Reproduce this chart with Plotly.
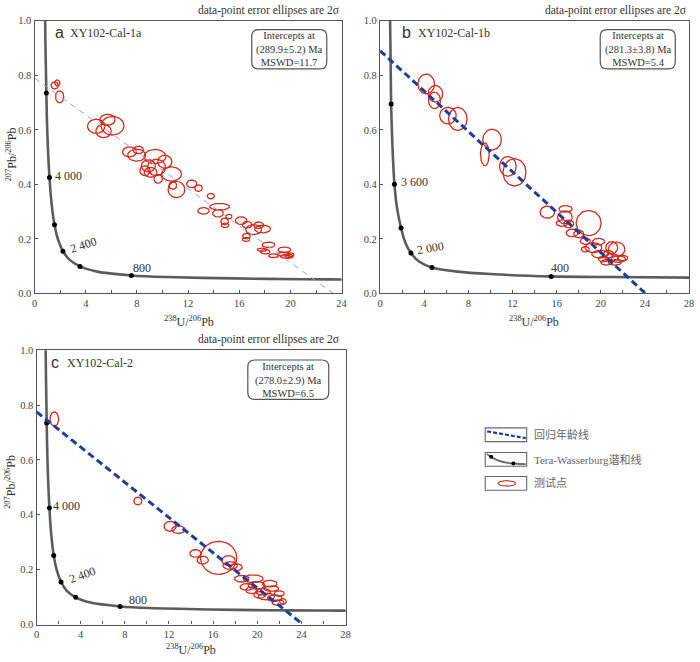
import numpy as np
import plotly.graph_objects as go

W, H = 700, 662

# ---- data ----
# panel a : XY102-Cal-1a
a_x = [1.57, 1.78, 1.96, 4.82, 5.39, 6.09, 5.70, 7.42, 8.11, 7.98, 9.41, 10.18, 8.89, 9.53, 8.63,
       9.07, 9.66, 10.70, 10.81, 11.09, 12.28, 12.82, 13.78, 13.21, 14.47, 14.34, 14.86, 14.89, 15.19,
       16.15, 16.62, 16.56, 16.54, 17.13, 17.52, 17.82, 18.29, 17.78, 18.03, 18.68, 19.53, 19.45,
       19.92, 19.6, 20.0]
a_y = [0.763, 0.772, 0.721, 0.613, 0.595, 0.615, 0.637, 0.519, 0.526, 0.507, 0.502, 0.483, 0.468,
       0.462, 0.450, 0.444, 0.420, 0.438, 0.396, 0.381, 0.402, 0.386, 0.357, 0.303, 0.318, 0.294,
       0.264, 0.250, 0.282, 0.267, 0.252, 0.210, 0.198, 0.234, 0.250, 0.236, 0.178, 0.160, 0.153,
       0.138, 0.160, 0.144, 0.136, 0.136, 0.142]
a_sx = [0.28, 0.2, 0.32, 0.68, 0.6, 0.9, 0.6, 0.55, 0.4, 0.7, 0.85, 0.55, 0.55, 0.7, 0.4, 0.5, 0.33,
        0.78, 0.3, 0.65, 0.4, 0.3, 0.28, 0.45, 0.78, 0.42, 0.3, 0.3, 0.25, 0.45, 0.38, 0.3, 0.3, 0.62,
        0.38, 0.62, 0.5, 0.38, 0.38, 0.38, 0.5, 0.5, 0.3, 0.38, 0.28]
a_sy = [0.013, 0.011, 0.022, 0.026, 0.024, 0.034, 0.02, 0.018, 0.014, 0.022, 0.026, 0.024, 0.022,
        0.03, 0.018, 0.018, 0.016, 0.026, 0.014, 0.03, 0.014, 0.012, 0.01, 0.012, 0.012, 0.014, 0.012,
        0.008, 0.008, 0.014, 0.012, 0.01, 0.007, 0.018, 0.012, 0.014, 0.01, 0.006, 0.008, 0.007, 0.01,
        0.007, 0.007, 0.007, 0.007]

# panel b : XY102-Cal-1b
b_x = [4.18, 5.01, 4.93, 6.15, 7.04, 10.15, 9.49, 11.58, 12.18, 15.16, 16.8, 16.75, 16.5, 17.1, 18.9,
       17.4, 18.0, 18.6, 19.8, 19.34, 18.6, 19.94, 20.99, 21.43, 20.7, 20.24, 20.99, 21.6, 22.0,
       21.28, 20.54]
b_y = [0.768, 0.732, 0.708, 0.652, 0.640, 0.564, 0.510, 0.466, 0.444, 0.298, 0.310, 0.279, 0.258,
       0.255, 0.258, 0.222, 0.218, 0.192, 0.190, 0.168, 0.162, 0.144, 0.168, 0.162, 0.144, 0.126,
       0.132, 0.126, 0.130, 0.114, 0.114]
b_sx = [0.75, 0.66, 0.54, 0.75, 0.84, 0.84, 0.39, 0.75, 1.04, 0.66, 0.6, 0.66, 0.54, 0.45, 1.13,
        0.54, 0.45, 0.45, 0.54, 0.75, 0.36, 0.75, 0.54, 0.75, 0.45, 0.45, 0.6, 0.66, 0.45, 0.6, 0.54]
b_sy = [0.036, 0.03, 0.03, 0.03, 0.042, 0.038, 0.042, 0.036, 0.05, 0.022, 0.012, 0.024, 0.012,
        0.014, 0.046, 0.014, 0.014, 0.012, 0.012, 0.018, 0.01, 0.014, 0.022, 0.026, 0.014, 0.01,
        0.014, 0.012, 0.01, 0.01, 0.01]

# panel c : XY102-Cal-2
c_x = [1.61, 9.18, 12.1, 12.85, 14.4, 15.06, 16.5, 17.4, 17.55, 18.1, 18.6, 19.64, 19.93, 21.13,
       19.04, 19.49, 20.53, 20.83, 21.58, 22.0, 22.33, 21.88, 20.23, 21.28]
c_y = [0.749, 0.450, 0.358, 0.346, 0.259, 0.235, 0.243, 0.233, 0.215, 0.209, 0.167, 0.167, 0.143,
       0.149, 0.137, 0.125, 0.119, 0.102, 0.096, 0.113, 0.084, 0.080, 0.108, 0.131]
c_sx = [0.39, 0.36, 0.54, 0.6, 0.51, 0.51, 1.64, 0.6, 0.66, 0.54, 0.66, 0.9, 0.75, 0.66, 0.6, 0.54,
        0.66, 0.75, 0.66, 0.45, 0.3, 0.54, 0.54, 0.66]
c_sy = [0.026, 0.014, 0.018, 0.014, 0.014, 0.014, 0.06, 0.018, 0.014, 0.012, 0.012, 0.014, 0.014,
        0.012, 0.012, 0.012, 0.012, 0.012, 0.012, 0.01, 0.01, 0.01, 0.012, 0.01]

# regression lines (y-intercept -> x-intercept)
a_line_x, a_line_y = [0, 23.35], [0.79, 0]
b_line_x, b_line_y = [0, 24.05], [0.89, 0]
c_line_x, c_line_y = [0, 24.15], [0.775, 0]

# concordia curves
conc_x = [0.82, 0.85, 0.875, 0.92, 0.99, 1.163, 1.337, 1.556, 1.838, 2.217, 2.749, 3.55, 4.89,
          7.57, 10.25, 15.62, 20.99, 25.29, 28.5]
conc_y = [1.02, 0.91, 0.846, 0.735, 0.597, 0.425, 0.326, 0.252, 0.197, 0.155, 0.123, 0.099, 0.080,
          0.066, 0.060, 0.055, 0.052, 0.051, 0.0505]
conc_b_x = [0.90, 0.93, 0.97, 1.0, 1.1, 1.3, 1.55, 1.9, 2.3, 2.8, 3.5, 4.7, 7.0, 10.0, 15.5, 21.0, 28.5]
conc_b_y = [1.02, 0.93, 0.80, 0.695, 0.56, 0.40, 0.31, 0.24, 0.185, 0.148, 0.118, 0.095, 0.080,
            0.071, 0.0625, 0.060, 0.058]

# age marks on the concordia (every 800 Ma)
dot_x = [7.57, 3.55, 2.217, 1.556, 1.163, 0.92]
dot_y = [0.066, 0.099, 0.155, 0.252, 0.425, 0.735]
dot_b_x = [15.5, 4.7, 2.8, 1.9, 1.3, 1.0]
dot_b_y = [0.0625, 0.095, 0.148, 0.24, 0.40, 0.695]

age_labels_a = ["4 000", "2 400", "800"]
age_labels_b = ["3 600", "2 000", "400"]
age_labels_c = ["4 000", "2 400", "800"]

intercepts = ["(289.9±5.2) Ma", "(281.3±3.8) Ma", "(278.0±2.9) Ma"]
mswd = ["11.7", "5.4", "6.5"]
samples = ["XY102-Cal-1a", "XY102-Cal-1b", "XY102-Cal-2"]
legend_labels = ["回归年龄线", "Tera-Wasserburg谐和线", "测试点"]

RED = "#d3291c"
SERIF = "Liberation Serif"


def px(x, y):
    return x / W, 1 - y / H


def ellipses(cx, cy, sx, sy):
    t = np.linspace(0, 2 * np.pi, 48)
    xs, ys = [], []
    for x0, y0, rx, ry in zip(cx, cy, sx, sy):
        xs += list(x0 + rx * np.cos(t)) + [None]
        ys += list(y0 + ry * np.sin(t)) + [None]
    return xs, ys


def rrect(x0, y0, x1, y1, r=7):
    p = lambda x, y: "%.5f,%.5f" % px(x, y)
    return ("M" + p(x0 + r, y0) + " L" + p(x1 - r, y0) + " Q" + p(x1, y0) + " " + p(x1, y0 + r) +
            " L" + p(x1, y1 - r) + " Q" + p(x1, y1) + " " + p(x1 - r, y1) +
            " L" + p(x0 + r, y1) + " Q" + p(x0, y1) + " " + p(x0, y1 - r) +
            " L" + p(x0, y0 + r) + " Q" + p(x0, y0) + " " + p(x0 + r, y0) + " Z")


fig = go.Figure()

panels = [
    dict(ax="", cx=a_x, cy=a_y, sx=a_sx, sy=a_sy, lx=a_line_x, ly=a_line_y, lc="#8ea6dd", lw=1,
         dash="6px,5px", kx=conc_x, ky=conc_y, dx=dot_x, dy=dot_y),
    dict(ax="2", cx=b_x, cy=b_y, sx=b_sx, sy=b_sy, lx=b_line_x, ly=b_line_y, lc="#1c3f9e", lw=3,
         dash="7px,4px", kx=conc_b_x, ky=conc_b_y, dx=dot_b_x, dy=dot_b_y),
    dict(ax="3", cx=c_x, cy=c_y, sx=c_sx, sy=c_sy, lx=c_line_x, ly=c_line_y, lc="#1c3f9e", lw=3,
         dash="7px,4px", kx=conc_x, ky=conc_y, dx=dot_x, dy=dot_y),
]

for p in panels:
    xa, ya = "x" + p["ax"], "y" + p["ax"]
    fig.add_trace(go.Scatter(x=p["kx"], y=p["ky"], mode="lines", xaxis=xa, yaxis=ya,
                             line=dict(color="#5c5c5c", width=2.6, shape="spline", smoothing=0.8),
                             hoverinfo="skip"))
    fig.add_trace(go.Scatter(x=p["dx"], y=p["dy"], mode="markers", xaxis=xa, yaxis=ya,
                             marker=dict(color="black", size=5), hoverinfo="skip"))
    ex, ey = ellipses(p["cx"], p["cy"], p["sx"], p["sy"])
    fig.add_trace(go.Scatter(x=ex, y=ey, mode="lines", xaxis=xa, yaxis=ya,
                             line=dict(color=RED, width=1.3), hoverinfo="skip"))
    fig.add_trace(go.Scatter(x=p["lx"], y=p["ly"], mode="lines", xaxis=xa, yaxis=ya,
                             line=dict(color=p["lc"], width=p["lw"], dash=p["dash"]),
                             hoverinfo="skip"))

# legend samples (drawn on an invisible pixel-scaled axis)
fig.add_trace(go.Scatter(x=[490.5, 529.5], y=[433.5, 440.5], mode="lines", xaxis="x4", yaxis="y4",
                         line=dict(color="#1c3f9e", width=2.2, dash="4px,2px"), hoverinfo="skip"))
fig.add_trace(go.Scatter(x=[490, 495, 502, 510, 520, 529.5], y=[456.5, 460, 463.3, 465.4, 466.5, 467],
                         mode="lines", xaxis="x4", yaxis="y4",
                         line=dict(color="#6a6a6a", width=1.8, shape="spline"), hoverinfo="skip"))
fig.add_trace(go.Scatter(x=[494.5, 517], y=[459.5, 466.2], mode="markers", xaxis="x4", yaxis="y4",
                         marker=dict(color="black", size=4), hoverinfo="skip"))
t = np.linspace(0, 2 * np.pi, 40)
fig.add_trace(go.Scatter(x=510.5 + 9 * np.cos(t), y=486.5 + 2.8 * np.sin(t), mode="lines",
                         xaxis="x4", yaxis="y4", line=dict(color=RED, width=1.1), hoverinfo="skip"))

shapes, annos = [], []
for y0, y1 in [(430, 444), (455, 469), (479.5, 493.5)]:
    shapes.append(dict(type="rect", xref="x4", yref="y4", x0=488.5, x1=530.5, y0=y0, y1=y1,
                       line=dict(color="#666", width=1.1)))
for lab, yy in zip(legend_labels, [437, 462, 486.5]):
    annos.append(dict(text=lab, xref="x4", yref="y4", x=536, y=yy, xanchor="left", yanchor="middle",
                      showarrow=False, font=dict(family=SERIF + ", Noto Sans CJK SC", size=11,
                                                 color="#666")))

# per-panel decorations (pixel geometry)
frames = [
    dict(box=(252, 25, 328, 65), letter=(57, 28), name=(66, 28), note=(343, 6), xt=(188, 322),
         yt=(9, 152)),
    dict(box=(605, 25, 681, 65), letter=(409, 28), name=(418, 28), note=(695, 6), xt=(538, 322),
         yt=None),
    dict(box=(248, 361, 330, 401), letter=(53, 364), name=(63, 364), note=(343, 340),
         xt=(190, 655), yt=(8, 485)),
]
for i, f in enumerate(frames):
    x0, y0, x1, y1 = f["box"]
    shapes.append(dict(type="path", xref="paper", yref="paper", path=rrect(x0, y0, x1, y1),
                       line=dict(color="#555", width=1.2)))
    bx, by = px((x0 + x1) / 2, (y0 + y1) / 2)
    annos.append(dict(text="Intercepts at<br>" + intercepts[i] + "<br>MSWD=" + mswd[i],
                      xref="paper", yref="paper", x=bx, y=by, xanchor="center", yanchor="middle",
                      showarrow=False, align="center",
                      font=dict(family=SERIF, size=10.5, color="#333")))
    lx, ly = px(*f["letter"])
    annos.append(dict(text="abc"[i], xref="paper", yref="paper", x=lx, y=ly, xanchor="center",
                      yanchor="middle", showarrow=False,
                      font=dict(family="Liberation Sans", size=16, color="#333")))
    nx, ny = px(*f["name"])
    annos.append(dict(text=samples[i], xref="paper", yref="paper", x=nx, y=ny, xanchor="left",
                      yanchor="middle", showarrow=False, font=dict(family=SERIF, size=12,
                                                                   color="#333")))
    tx, ty = px(*f["note"])
    annos.append(dict(text="data-point error ellipses are 2σ", xref="paper", yref="paper", x=tx,
                      y=ty, xanchor="right", yanchor="middle", showarrow=False,
                      font=dict(family=SERIF, size=11.5, color="#333")))
    ux, uy = px(*f["xt"])
    annos.append(dict(text="<sup>238</sup>U/<sup>206</sup>Pb", xref="paper", yref="paper", x=ux,
                      y=uy, xanchor="center", yanchor="middle", showarrow=False,
                      font=dict(family=SERIF, size=12, color="#333")))
    if f["yt"]:
        vx, vy = px(*f["yt"])
        annos.append(dict(text="<sup>207</sup>Pb/<sup>206</sup>Pb", xref="paper", yref="paper",
                          x=vx, y=vy, textangle=-90, xanchor="center", yanchor="middle",
                          showarrow=False, font=dict(family=SERIF, size=12, color="#333")))

# age labels beside concordia dots
age_pos = [
    ("", age_labels_a, [(1.42, 0.432, 0), (2.45, 0.176, -18), (7.5, 0.093, 0)]),
    ("2", age_labels_b, [(1.75, 0.41, 0), (3.05, 0.165, -10), (15.3, 0.092, 0)]),
    ("3", age_labels_c, [(1.35, 0.432, 0), (2.55, 0.18, -20), (8.2, 0.088, 0)]),
]
for ax, labs, pos in age_pos:
    for lab, (x, y, ang) in zip(labs, pos):
        annos.append(dict(text=lab, xref="x" + ax, yref="y" + ax, x=x, y=y, xanchor="left",
                          yanchor="middle", showarrow=False, textangle=ang,
                          font=dict(family=SERIF, size=12, color="#333")))

axis_style = dict(showline=True, mirror=True, linecolor="#555", linewidth=1.4, ticks="inside",
                  ticklen=3, tickcolor="#555", showgrid=False, zeroline=False,
                  tickfont=dict(family=SERIF, size=10.5, color="#444"))
xdom_a, xdom_b, xdom_c = [32 / W, 343 / W], [382 / W, 695 / W], [34 / W, 347 / W]
ydom_top = [1 - 293.3 / H, 1 - 16 / H]
ydom_c = [1 - 630 / H, 1 - 351 / H]

fig.update_layout(
    width=W, height=H, margin=dict(l=0, r=0, t=0, b=0), showlegend=False,
    paper_bgcolor="white", plot_bgcolor="white",
    xaxis=dict(domain=xdom_a, range=[0, 24], dtick=4, anchor="y",
               minor=dict(dtick=2, ticks="inside", ticklen=3, tickcolor="#555"), **axis_style),
    yaxis=dict(domain=ydom_top, range=[0, 1], dtick=0.2, tickformat=".1f", anchor="x", **axis_style),
    xaxis2=dict(domain=xdom_b, range=[0, 28], dtick=4, anchor="y2",
                minor=dict(dtick=2, ticks="inside", ticklen=3, tickcolor="#555"), **axis_style),
    yaxis2=dict(domain=ydom_top, range=[0, 1], dtick=0.2, tickformat=".1f", anchor="x2", **axis_style),
    xaxis3=dict(domain=xdom_c, range=[0, 28], dtick=4, anchor="y3",
                minor=dict(dtick=2, ticks="inside", ticklen=3, tickcolor="#555"), **axis_style),
    yaxis3=dict(domain=ydom_c, range=[0, 1], dtick=0.2, tickformat=".1f", anchor="x3", **axis_style),
    xaxis4=dict(domain=[470 / W, 680 / W], range=[470, 680], visible=False, anchor="y4"),
    yaxis4=dict(domain=[1 - 510 / H, 1 - 420 / H], range=[510, 420], visible=False, anchor="x4"),
    shapes=shapes, annotations=annos,
)

fig.write_html("out.html", config={"displayModeBar": False},
               post_script="document.body.style.margin='0';"
                           "document.body.style.overflow='hidden';")
